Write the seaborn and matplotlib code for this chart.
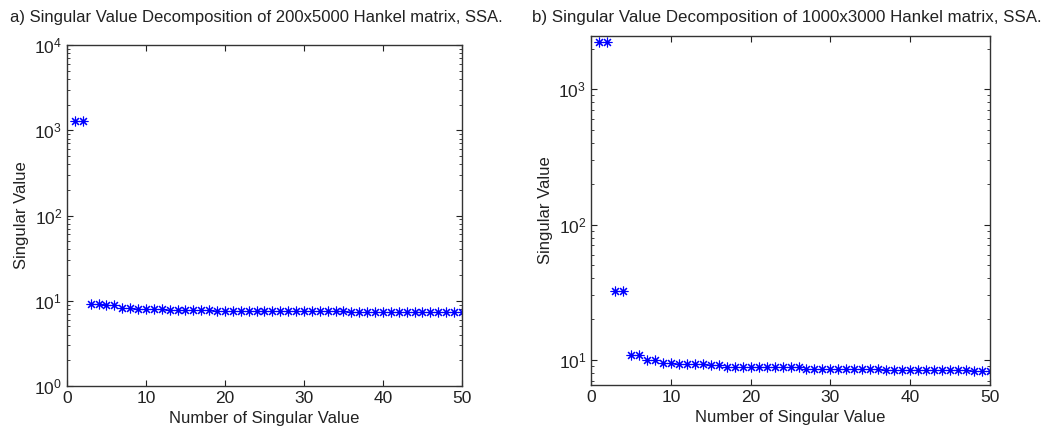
import numpy as np
import pandas as pd
import matplotlib
matplotlib.use("Agg")
import matplotlib.pyplot as plt
import seaborn as sns

# ---- data ----
idx = list(range(1, 51))
sv_a = [1300, 1280,
        9.2, 9.1, 9.0, 8.9,
        8.3, 8.2, 8.0, 8.0, 8.0, 8.0,
        7.7, 7.7, 7.7, 7.7, 7.7, 7.7,
        7.5, 7.5, 7.5, 7.5, 7.5, 7.5, 7.5, 7.5, 7.5, 7.5, 7.5, 7.5, 7.5, 7.5, 7.5, 7.5, 7.5,
        7.3, 7.3, 7.3, 7.3, 7.3, 7.3, 7.3, 7.3, 7.3, 7.3, 7.3, 7.3, 7.3, 7.3, 7.3]
sv_b = [2250, 2250,
        32, 32,
        10.8, 10.8,
        10.0, 10.0,
        9.5, 9.5,
        9.34, 9.34, 9.34, 9.34,
        9.15, 9.15,
        8.88, 8.88, 8.88, 8.88, 8.88, 8.88, 8.88, 8.88, 8.88, 8.88,
        8.58, 8.58, 8.58, 8.58, 8.58, 8.58, 8.58, 8.58, 8.58, 8.58,
        8.4, 8.4, 8.4, 8.4, 8.4, 8.4, 8.4, 8.4, 8.4, 8.4, 8.4,
        8.25, 8.25, 8.25]
title_a = "a) Singular Value Decomposition of 200x5000 Hankel matrix, SSA."
title_b = "b) Singular Value Decomposition of 1000x3000 Hankel matrix, SSA."
xlabel = "Number of Singular Value"
ylabel = "Singular Value"
xticks = [0, 10, 20, 30, 40, 50]

sns.set_style("ticks")
plt.rcParams["font.family"] = ["Liberation Sans", "DejaVu Sans"]
plt.rcParams["mathtext.fontset"] = "custom"
plt.rcParams["mathtext.rm"] = "Liberation Sans"
plt.rcParams["mathtext.it"] = "Liberation Sans"
plt.rcParams["mathtext.bf"] = "Liberation Sans"
plt.rcParams["font.size"] = 12

fig = plt.figure(figsize=(10.53, 4.32), dpi=100)
ax1 = fig.add_axes([0.0636, 0.1065, 0.3751, 0.7893])
ax2 = fig.add_axes([0.5613, 0.1088, 0.3789, 0.8079])

asterisk = (8, 2, 0)

def draw(ax, y, ylim):
    df = pd.DataFrame({"n": idx, "v": y})
    sns.lineplot(data=df, x="n", y="v", ax=ax, linestyle="", marker=asterisk,
                 markersize=7, markeredgewidth=0.8, color="#0000ff",
                 markeredgecolor="#0000ff")
    ax.set_yscale("log")
    ax.set_xlim(0, 50)
    ax.set_ylim(*ylim)
    ax.set_xticks(xticks)
    ax.set_xlabel(xlabel, fontsize=12, color="#222222", labelpad=4)
    ax.set_ylabel(ylabel, fontsize=12, color="#222222")
    ax.tick_params(which="both", direction="in", top=True, right=True,
                   labelsize=12.5, colors="#222222")
    ax.tick_params(which="major", length=4)
    ax.tick_params(which="minor", length=2)
    for s in ax.spines.values():
        s.set_linewidth(1.0)
        s.set_color("#333333")

draw(ax1, sv_a, (1, 1e4))
draw(ax2, sv_b, (6.5, 2480))

fig.text(0.0095, 0.96, title_a, fontsize=12, color="#222222", va="center", ha="left")
fig.text(0.5052, 0.96, title_b, fontsize=12.2, color="#222222", va="center", ha="left")

fig.savefig("out.png", dpi=100, facecolor="white")
